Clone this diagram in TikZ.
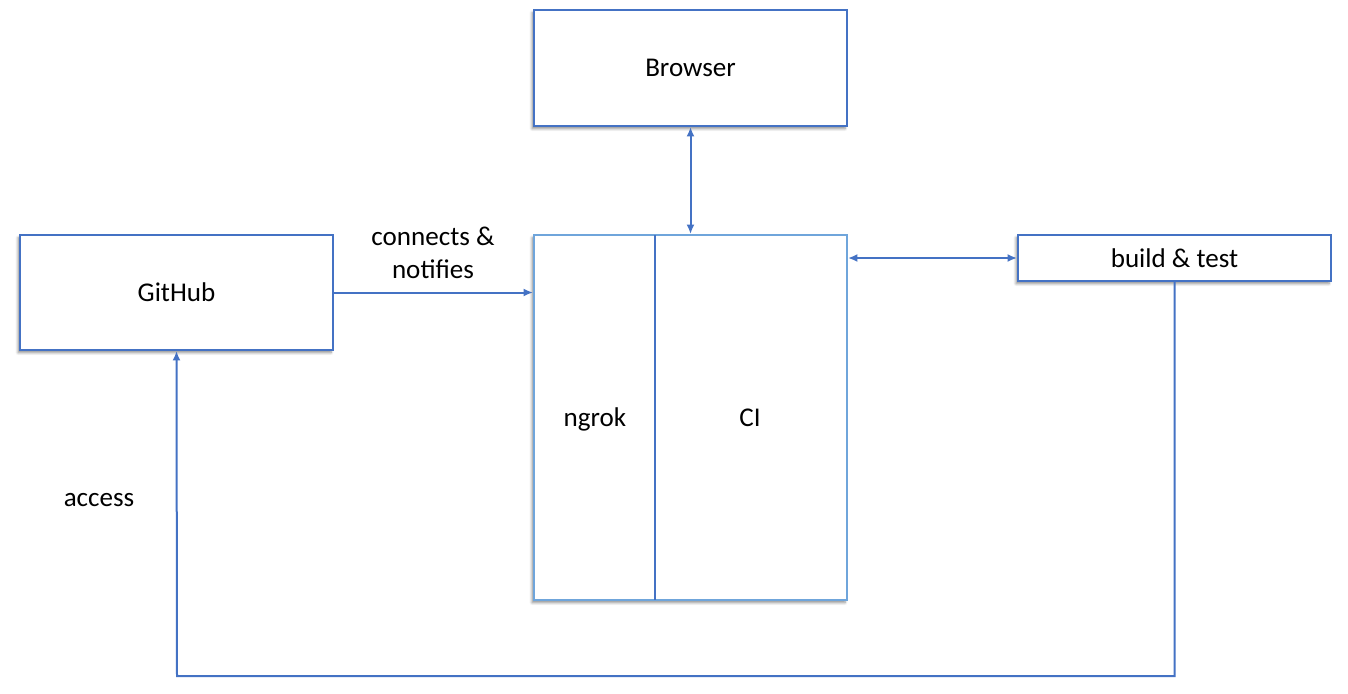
\documentclass[tikz,border=0pt]{standalone}
\usepackage{fontspec}
\setmainfont{Carlito}
\usetikzlibrary{arrows.meta,shadows.blur}
\definecolor{boxblue}{HTML}{4472C4}
\definecolor{lightblue}{HTML}{6FA5DB}
\begin{document}
\begin{tikzpicture}[x=0.75pt, y=-0.75pt, >={Latex[length=7pt,width=6pt]},
    box/.style={draw=boxblue, line width=1.5pt, fill=white, inner sep=0pt,
      font=\fontsize{20.3}{24}\selectfont,
      blur shadow={shadow xshift=-1.5pt, shadow yshift=-2pt, shadow blur steps=6, shadow opacity=45}},
    link/.style={draw=boxblue, line width=1.5pt},
    label/.style={font=\fontsize{20.3}{24.5}\selectfont, align=center}]
  % page size
  \useasboundingbox (0,0) rectangle (1348,693);

  % boxes
  \node[box, minimum width=234.75pt, minimum height=87pt] (browser) at (690.5,68) {Browser};
  \node[box, minimum width=234.75pt, minimum height=86.25pt] (github) at (176.5,292.5) {GitHub};
  \node[box, draw=lightblue, minimum width=234.75pt, minimum height=273.75pt] (server) at (690.5,417.5) {};
  \node[box, minimum width=234.75pt, minimum height=34.5pt] (build) at (1174.5,258) {build \& test};

  % split of the server box
  \coordinate (splittop) at (655,235);
  \coordinate (splitbot) at (655,600);
  \draw[boxblue, line width=1pt] (splittop) -- (splitbot);
  \node[label, anchor=base] (ngrok) at (595,426) {ngrok};
  \node[label, anchor=base] (ci) at (750,426) {CI};

  % connectors
  \draw[link, <->] (browser.south) -- (server.north);
  \draw[link, ->] (github.east) -- (github.east -| server.west);
  \draw[link, <->] (build.west -| server.east) -- (build.west);
  \coordinate (loop) at (177,676);
  \draw[link, ->] (build.south) |- (loop) -- (github.south);

  % labels
  \node[label] (notify) at (433,253) {connects \&\\notifies};
  \node[label] (access) at (99,500) {access};
\end{tikzpicture}
\end{document}
